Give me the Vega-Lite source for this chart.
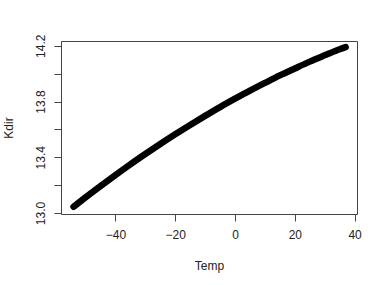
{
  "$schema": "https://vega.github.io/schema/vega-lite/v6.json",
  "width": 296,
  "height": 173,
  "autosize": {"type": "none"},
  "padding": {"left": 61, "top": 41, "right": 26, "bottom": 71},
  "background": "white",
  "config": {
    "view": {"stroke": "#444", "strokeWidth": 1},
    "font": "Liberation Sans",
    "axis": {
      "domain": false,
      "grid": false,
      "tickColor": "#444",
      "tickSize": 7,
      "labelFont": "Liberation Sans",
      "labelFontSize": 12,
      "labelColor": "#222",
      "titleFont": "Liberation Sans",
      "titleFontSize": 12,
      "titleFontWeight": "normal",
      "titleColor": "#222"
    }
  },
  "data": {
    "values": [
      {"Temp": -54, "Kdir": 13.045},
      {"Temp": -50, "Kdir": 13.112},
      {"Temp": -45, "Kdir": 13.193},
      {"Temp": -40, "Kdir": 13.272},
      {"Temp": -35, "Kdir": 13.349},
      {"Temp": -30, "Kdir": 13.423},
      {"Temp": -25, "Kdir": 13.495},
      {"Temp": -20, "Kdir": 13.565},
      {"Temp": -15, "Kdir": 13.632},
      {"Temp": -10, "Kdir": 13.697},
      {"Temp": -5, "Kdir": 13.76},
      {"Temp": 0, "Kdir": 13.82},
      {"Temp": 5, "Kdir": 13.878},
      {"Temp": 10, "Kdir": 13.933},
      {"Temp": 15, "Kdir": 13.987},
      {"Temp": 20, "Kdir": 14.037},
      {"Temp": 25, "Kdir": 14.086},
      {"Temp": 30, "Kdir": 14.131},
      {"Temp": 35, "Kdir": 14.175},
      {"Temp": 37, "Kdir": 14.19}
    ]
  },
  "mark": {"type": "line", "color": "black", "strokeWidth": 6.5, "strokeCap": "round", "strokeJoin": "round", "interpolate": "monotone"},
  "encoding": {
    "x": {
      "field": "Temp",
      "type": "quantitative",
      "scale": {"domain": [-58.2, 40.8], "nice": false, "zero": false},
      "axis": {"values": [-40, -20, 0, 20, 40], "labelPadding": 8, "titlePadding": 20, "labelFlush": false}
    },
    "y": {
      "field": "Kdir",
      "type": "quantitative",
      "scale": {"domain": [12.993, 14.234], "nice": false, "zero": false},
      "axis": {
        "values": [13.0, 13.2, 13.4, 13.6, 13.8, 14.0, 14.2],
        "labelExpr": "round(datum.value*10)%4==2 ? format(datum.value,'.1f') : ''",
        "labelAngle": -90,
        "labelAlign": "center",
        "labelBaseline": "bottom",
        "labelPadding": 7,
        "titlePadding": 19,
        "labelFlush": false
      }
    }
  }
}
